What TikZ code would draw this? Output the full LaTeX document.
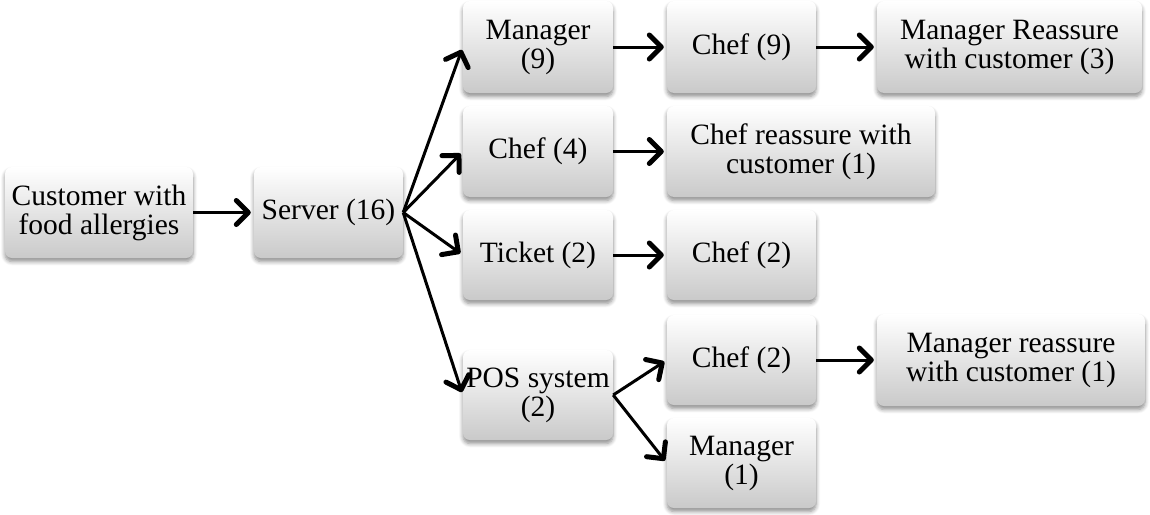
\documentclass[tikz,border=0pt]{standalone}
\usepackage{fontspec}
\setmainfont{Liberation Serif}
\usetikzlibrary{arrows.meta,shadows.blur}
\begin{document}
\begin{tikzpicture}[x=1pt,y=-1pt,
  box/.style={rounded corners=7pt, top color=white, bottom color=black!21,
    draw=none, align=center, inner sep=0pt, minimum height=91pt,
    font=\fontsize{29.5}{29}\selectfont,
    blur shadow={shadow xshift=0pt, shadow yshift=-3.5pt, shadow blur steps=6, shadow blur radius=4pt, shadow opacity=45}},
  conn/.style={line width=3pt, -{Straight Barb[length=12pt,width=24pt,line width=5pt,round]}, shorten >=3pt}
]
\useasboundingbox (0,0) rectangle (1150,514);
\node[box, minimum width=188pt] (cust) at (99,212.5) {Customer with\\food allergies};
\node[box, minimum width=149pt] (server) at (328.5,212.5) {Server (16)};
\node[box, minimum width=150pt, minimum height=92pt] (mgr9) at (538,47) {Manager\\(9)};
\node[box, minimum width=149pt, minimum height=92pt] (chef9) at (741.5,47) {Chef (9)};
\node[box, minimum width=265pt, minimum height=92pt] (mrc3) at (1009.5,47) {Manager Reassure\\with customer (3)};
\node[box, minimum width=150pt] (chef4) at (538,151.5) {Chef (4)};
\node[box, minimum width=268pt] (crc1) at (801,151.5) {Chef reassure with\\customer (1)};
\node[box, minimum width=150pt, minimum height=90pt] (ticket) at (538,255) {Ticket (2)};
\node[box, minimum width=149pt, minimum height=90pt] (chef2a) at (741.5,255) {Chef (2)};
\node[box, minimum width=150pt, minimum height=90pt] (pos) at (538,395) {POS system\\(2)};
\node[box, minimum width=149pt, minimum height=90pt] (chef2b) at (741.5,360) {Chef (2)};
\node[box, minimum width=268pt, minimum height=92pt] (mrc1) at (1011,360) {Manager reassure\\with customer (1)};
\node[box, minimum width=149pt, minimum height=90pt] (mgr1) at (741.5,463) {Manager\\(1)};

\draw[conn] (cust.east) -- (server.west);
\draw[conn] (server.east) -- (mgr9.west);
\draw[conn] (server.east) -- (chef4.west);
\draw[conn] (server.east) -- (ticket.west);
\draw[conn] (server.east) -- (pos.west);
\draw[conn] (mgr9.east) -- (chef9.west);
\draw[conn] (chef9.east) -- (mrc3.west);
\draw[conn] (chef4.east) -- (crc1.west);
\draw[conn] (ticket.east) -- (chef2a.west);
\draw[conn] (pos.east) -- (chef2b.west);
\draw[conn] (pos.east) -- (mgr1.west);
\draw[conn] (chef2b.east) -- (mrc1.west);
\end{tikzpicture}
\end{document}
